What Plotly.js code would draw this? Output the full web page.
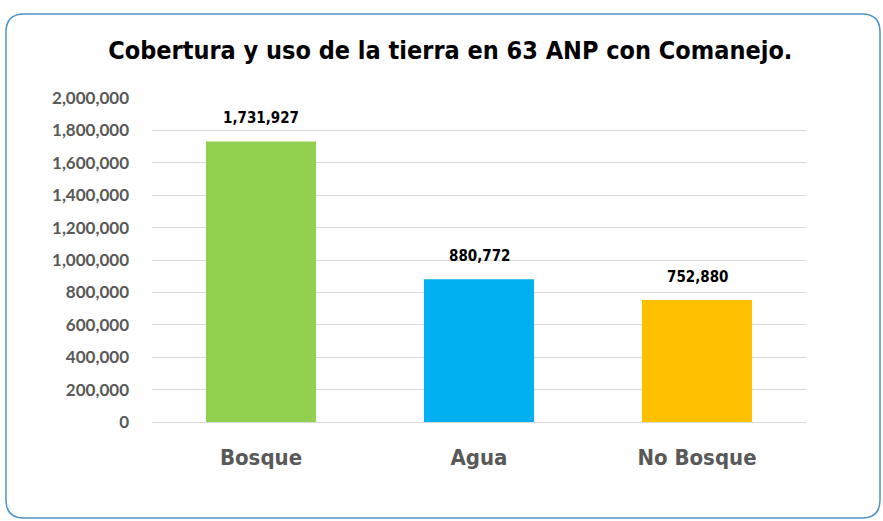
<!DOCTYPE html>
<html>
<head>
<meta charset="utf-8">
<script src="https://cdn.plot.ly/plotly-3.0.1.min.js"></script>
<style>html,body{margin:0;padding:0;background:#fff;}#chart{width:883px;height:521px;}</style>
</head>
<body>
<div id="chart"></div>
<script>
const categories = ["Bosque", "Agua", "No Bosque"];
const values = [1731927, 880772, 752880];
const barColors = ["#92d050", "#00b0f0", "#ffc000"];
const valueLabels = ["1,731,927", "880,772", "752,880"];
const tickVals = [0, 200000, 400000, 600000, 800000, 1000000, 1200000, 1400000, 1600000, 1800000, 2000000];
const tickText = ["0", "200,000", "400,000", "600,000", "800,000", "1,000,000", "1,200,000", "1,400,000", "1,600,000", "1,800,000", "2,000,000"];

const narrow = "'Liberation Sans Narrow', 'Arial Narrow', 'DejaVu Sans Condensed', sans-serif";

const trace = {
  type: "bar",
  x: categories,
  y: values,
  marker: {color: barColors},
  width: 0.505,
  hoverinfo: "none"
};

const annotations = categories.map((c, i) => ({
  x: c, y: values[i], xref: "x", yref: "y",
  text: valueLabels[i], showarrow: false,
  yanchor: "middle", yshift: 23,
  font: {family: narrow, size: 15, color: "#000", weight: "bold"}
}));

const W = 883, H = 521;
const ml = 152, mr = 77, mt = 98, mb = 99;
function px(x){ return (x - ml) / (W - ml - mr); }
function py(y){ return (H - mb - y) / (H - mt - mb); }
const x0 = 6, x1 = 880, y0 = 14, y1 = 518, r = 18;
const path = `M ${px(x0+r)} ${py(y0)} L ${px(x1-r)} ${py(y0)} Q ${px(x1)} ${py(y0)} ${px(x1)} ${py(y0+r)} L ${px(x1)} ${py(y1-r)} Q ${px(x1)} ${py(y1)} ${px(x1-r)} ${py(y1)} L ${px(x0+r)} ${py(y1)} Q ${px(x0)} ${py(y1)} ${px(x0)} ${py(y1-r)} L ${px(x0)} ${py(y0+r)} Q ${px(x0)} ${py(y0)} ${px(x0+r)} ${py(y0)} Z`;

const layout = {
  width: W, height: H,
  margin: {l: ml, r: mr, t: mt, b: mb},
  paper_bgcolor: "#fff", plot_bgcolor: "#fff",
  showlegend: false,
  annotations: annotations,
  title: {
    text: "Cobertura y uso de la tierra en 63 ANP con Comanejo.",
    font: {family: narrow, size: 25, color: "#000", weight: "bold"},
    x: 0.51, xanchor: "center", y: 0.903, yanchor: "middle"
  },
  xaxis: {
    type: "category",
    tickfont: {family: narrow, size: 22, color: "#595959", weight: "bold"},
    showline: true, linecolor: "#d9d9d9", linewidth: 1,
    ticks: "", ticklen: 0, showgrid: false, ticklabelstandoff: 16
  },
  yaxis: {
    range: [0, 2000000],
    tickvals: tickVals, ticktext: tickText,
    tickfont: {family: "'Lato', 'Open Sans', sans-serif", size: 17, color: "#595959", weight: "bold"},
    showgrid: true, gridcolor: "#d9d9d9", gridwidth: 1,
    zeroline: false, showline: false, ticks: "", ticklabelstandoff: 22
  },
  shapes: [{
    type: "path", xref: "paper", yref: "paper", path: path,
    line: {color: "#4f93c9", width: 1.5}, fillcolor: "rgba(0,0,0,0)", layer: "below"
  }]
};

Plotly.newPlot("chart", [trace], layout, {displayModeBar: false, staticPlot: true});
</script>
</body>
</html>
